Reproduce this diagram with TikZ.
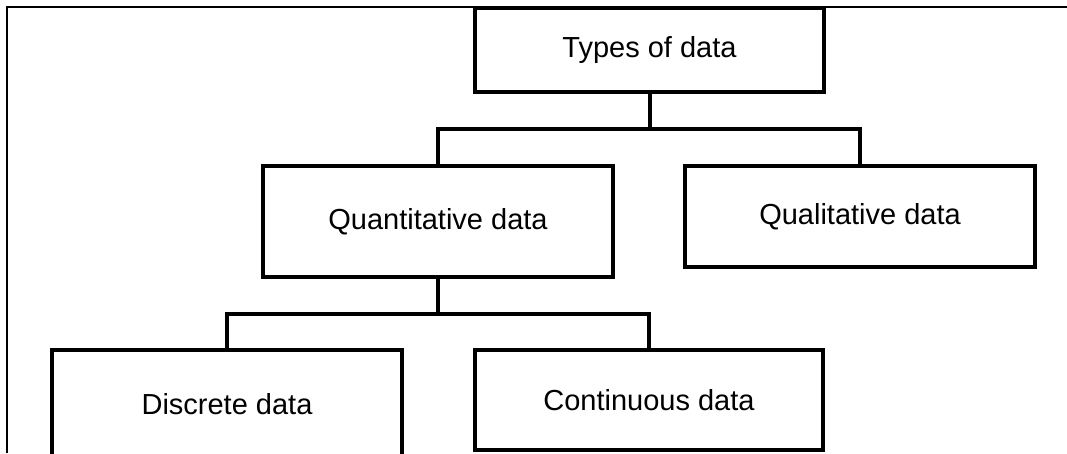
\documentclass[tikz,border=0pt]{standalone}
\usepackage{fontspec}
\setmainfont{Liberation Sans}
\tikzset{
  databox/.style={draw=black, line width=4pt, rectangle, inner sep=0pt,
    font=\fontsize{29}{34}\selectfont, text=black},
  conn/.style={draw=black, line width=4pt},
  framel/.style={draw=black, line width=2pt}
}
\begin{document}
\begin{tikzpicture}[x=1pt,y=-1pt]
\useasboundingbox (0,0) rectangle (1067,453);
\begin{scope}
\clip (0,0) rectangle (1067,453);
% frame
\coordinate (fa) at (7,453);
\coordinate (fb) at (7,7);
\coordinate (fc) at (1067,7);
\draw[framel] (fa) -- (fb) -- (fc);
% boxes
\node[databox, minimum width=349pt, minimum height=84pt] (types) at (649.5,50) {Types of data};
\node[databox, minimum width=350pt, minimum height=111pt] (quant) at (438,221.5) {Quantitative data};
\node[databox, minimum width=350pt, minimum height=101pt] (qual) at (860,216.5) {Qualitative data};
\node[databox, minimum width=350pt, minimum height=108pt] (disc) at (227,404) {Discrete data};
\node[databox, minimum width=348pt, minimum height=100pt] (cont) at (649,400) {Continuous data};
% connectors
\coordinate (b1) at (0,129);
\coordinate (b2) at (0,313.5);
\draw[conn] (types.south) -- (types.south |- b1) -| (quant.north);
\draw[conn] (types.south |- b1) -| (qual.north);
\draw[conn] (quant.south) -- (quant.south |- b2) -| (disc.north);
\draw[conn] (quant.south |- b2) -| (cont.north);
\end{scope}
\end{tikzpicture}
\end{document}
